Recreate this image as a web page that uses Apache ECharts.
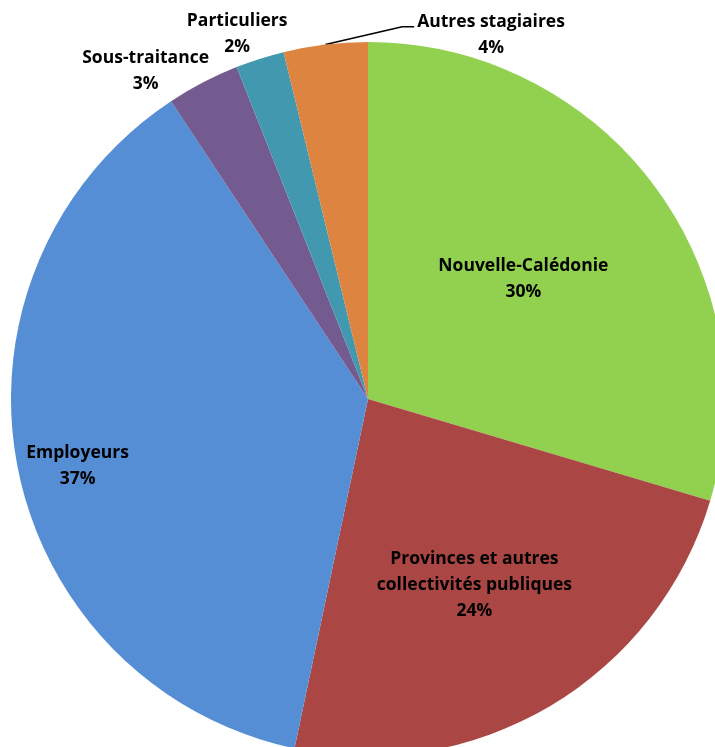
<!DOCTYPE html>
<html>
<head>
<meta charset="utf-8">
<script src="https://cdn.jsdelivr.net/npm/echarts@6/dist/echarts.min.js"></script>
<style>
html,body{margin:0;padding:0;background:#fff;}
#chart{width:715px;height:747px;}
</style>
</head>
<body>
<div id="chart"></div>
<script>
var categories = ['Nouvelle-Calédonie', 'Provinces et autres\ncollectivités publiques', 'Employeurs', 'Sous-traitance', 'Particuliers', 'Autres stagiaires'];
var values = [29.6, 23.7, 37.4, 3.3, 2.2, 3.8];
var colors = ['#92D050', '#AA4643', '#558ED5', '#735A8F', '#4198AF', '#DD8441'];

var CX = 368, CY = 399, R = 357;
// label placement: [radial factor, angle shift in degrees]
var labelPlace = [[0.55, -1], [0.60, 1], [0.835, -2.2], [1.11, -6.6], [1.085, -2.1], [1.077, 25.5]];
var outsideIdx = {3: true, 4: true, 5: true};

var total = values.reduce(function (a, b) { return a + b; }, 0);
function midAngle(i) {
  var s = 0;
  for (var k = 0; k < i; k++) s += values[k];
  return (s + values[i] / 2) / total * 360; // clockwise from top
}
function dir(deg) {
  var a = deg * Math.PI / 180;
  return [Math.sin(a), -Math.cos(a)];
}

var data = categories.map(function (name, i) {
  var item = { name: name, value: values[i], itemStyle: { color: colors[i] } };
  item.label = { position: outsideIdx[i] ? 'outside' : 'inside' };
  item.labelLine = { show: i === 5, lineStyle: { color: '#000', width: 1.6 } };
  return item;
});

var chart = echarts.init(document.getElementById('chart'));
chart.setOption({
  backgroundColor: '#fff',
  animation: false,
  series: [{
    type: 'pie',
    center: [CX, CY],
    radius: [0, R],
    startAngle: 90,
    clockwise: true,
    avoidLabelOverlap: false,
    minShowLabelAngle: 0,
    data: data,
    label: {
      show: true,
      formatter: function (p) { return p.name + '\n' + Math.round(p.percent) + '%'; },
      fontFamily: 'Open Sans',
      fontWeight: 'bold',
      fontSize: 17.5,
      lineHeight: 26,
      color: '#000',
      align: 'center'
    },
    labelLine: { length: 10, length2: 10, smooth: false },
    labelLayout: function (p) {
      var i = p.dataIndex;
      var pl = labelPlace[i];
      var m = midAngle(i);
      var d = dir(m + pl[1]);
      var x = CX + R * pl[0] * d[0];
      var y = CY + R * pl[0] * d[1];
      var res = { x: x, y: y, align: 'center', verticalAlign: 'middle' };
      if (i === 5) {
        var d0 = dir(m);
        var p0 = [CX + R * d0[0], CY + R * d0[1]];
        var left = x - p.labelRect.width / 2;
        var ly = y - p.labelRect.height / 2 + 18;
        res.labelLinePoints = [p0, [left - 15, ly], [left - 3, ly]];
      }
      return res;
    }
  }]
});
</script>
</body>
</html>
